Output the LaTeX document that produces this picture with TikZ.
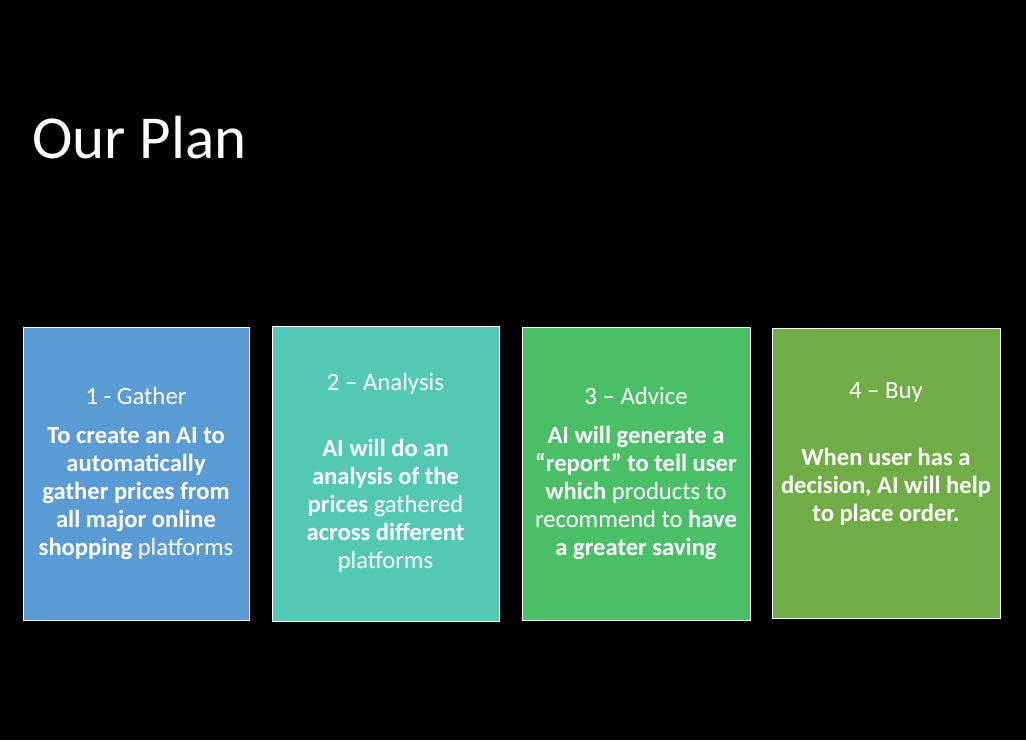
\documentclass[tikz,border=0pt]{standalone}
\usepackage{fontspec}
\setmainfont{Carlito}
\definecolor{cA}{HTML}{5B9BD5}
\definecolor{cB}{HTML}{53C9B5}
\definecolor{cC}{HTML}{4ABF68}
\definecolor{cD}{HTML}{70AD47}
\begin{document}
\begin{tikzpicture}[x=1pt,y=-1pt,
  panel/.style={draw=white, line width=1pt, inner sep=0pt},
  head/.style={text=white, font=\fontsize{24.8}{28}\selectfont, inner sep=0pt, anchor=center},
  body/.style={text=white, font=\fontsize{24.6}{28}\selectfont, inner sep=0pt, align=center, anchor=center}]
\fill[black] (0,0) rectangle (1026,740);
\useasboundingbox (0,0) rectangle (1026,740);
\node[text=white, font=\fontsize{61}{70}\selectfont, inner sep=0pt, anchor=base west] (title) at (32,158) {Our Plan};
\node[panel, fill=cA, minimum width=226pt, minimum height=293pt] (b1) at (136,473.5) {};
\node[panel, fill=cB, minimum width=227pt, minimum height=295pt] (b2) at (385.5,473.5) {};
\node[panel, fill=cC, minimum width=228pt, minimum height=293pt] (b3) at (636,473.5) {};
\node[panel, fill=cD, minimum width=228pt, minimum height=290pt] (b4) at (886,473) {};
\node[head] (h1) at (136,399) {\strut 1 - Gather};
\node[head] (h2) at (385.5,385) {\strut 2 – Analysis};
\node[head] (h3) at (636,399) {\strut 3 – Advice};
\node[head] (h4) at (886,393) {\strut 4 – Buy};
\node[body] (t1) at (136,493.5) {\strut\textbf{To create an AI to}\\\strut\textbf{automatically}\\\strut\textbf{gather prices from}\\\strut\textbf{all major online}\\\strut\textbf{shopping} platforms};
\node[body] (t2) at (385.5,507) {\strut\textbf{AI will do an}\\\strut\textbf{analysis of the}\\\strut\textbf{prices} gathered\\\strut\textbf{across different}\\\strut platforms};
\node[body] (t3) at (636,494) {\strut\textbf{AI will generate a}\\\strut\textbf{“report” to tell user}\\\strut\textbf{which} products to\\\strut recommend to \textbf{have}\\\strut\textbf{a greater saving}};
\node[body] (t4) at (886,488) {\strut\textbf{When user has a}\\\strut\textbf{decision, AI will help}\\\strut\textbf{to place order.}};
\end{tikzpicture}
\end{document}
